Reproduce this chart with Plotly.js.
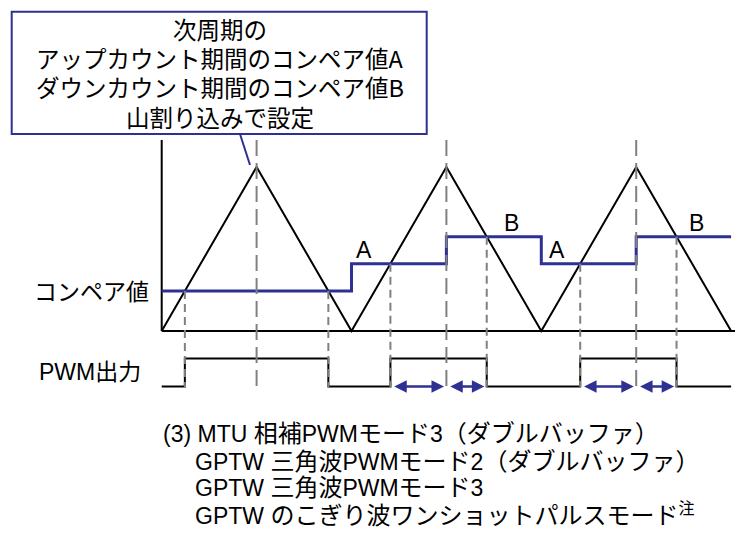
<!DOCTYPE html>
<html><head><meta charset="utf-8">
<script src="https://cdn.plot.ly/plotly-3.0.1.min.js"></script>
<style>html,body{margin:0;padding:0;background:#fff;}#chart{width:735px;height:537px;}</style>
</head><body><div id="chart"></div>
<script>
// ---- data ----
// carrier counter (triangle wave), time in half-periods, value normalised to peak
const carrierT = [0, 1, 2, 3, 4, 5, 6];
const carrierV = [0, 1, 0, 1, 0, 1, 0];
// compare register value for each segment
const compareStart = [0, 2, 3, 4, 5];
const compareEnd   = [2, 3, 4, 5, 6];
const compareV     = [0.244, 0.41, 0.575, 0.41, 0.575];
// step labels (A = up-count compare, B = down-count compare)
const stepLabels = ['', 'A', 'B', 'A', 'B'];
const stepLabelT = [null, 2.13, 3.69, 4.17, 5.64];
// texts
const calloutLines = ['次周期の', 'アップカウント期間のコンペア値A', 'ダウンカウント期間のコンペア値B', '山割り込みで設定'];
const captionLines = ['(3) MTU 相補PWMモード3（ダブルバッファ）', 'GPTW 三角波PWMモード2（ダブルバッファ）', 'GPTW 三角波PWMモード3', 'GPTW のこぎり波ワンショットパルスモード'];
const captionNote = '注';
const axisLabels = ['コンペア値', 'PWM出力'];

// ---- layout constants ----
const W = 735, H = 537;
const BLUE = '#2E3192', GRAY = '#808080';
const V_TOP = 1.165, PWM_HI = -0.168, PWM_LO = -0.338, DASH_BOTTOM = -0.341;
const px = x => x / W, py = y => 1 - y / H;
const LATIN = 'Liberation Sans, Arial, Noto Sans CJK JP, sans-serif';
const CJK = 'Noto Sans CJK JP, sans-serif';
const cjkSpan = (s, size) => s.replace(/[\u3000-\u9fff\uff00-\uffef]+/g, m => '<span style="font-size:' + size + 'px">' + m + '</span>');

function levelAt(t) {
  for (let i = 0; i < compareStart.length; i++) if (t >= compareStart[i] && t < compareEnd[i]) return compareV[i];
  return compareV[compareV.length - 1];
}

// PWM crossings derived from carrier vs compare
const periods = [];
for (let k = 0; 2 * k + 2 <= carrierT[carrierT.length - 1]; k++) {
  const t0 = carrierT[2 * k], tp = carrierT[2 * k + 1], t1 = carrierT[2 * k + 2];
  const up = levelAt(t0 + 0.5), dn = levelAt(tp + 0.5);
  const on = t0 + (tp - t0) * (up - carrierV[2 * k]) / (carrierV[2 * k + 1] - carrierV[2 * k]);
  const off = t1 - (t1 - tp) * (dn - carrierV[2 * k + 2]) / (carrierV[2 * k + 1] - carrierV[2 * k + 2]);
  periods.push({ on, off, peak: tp, up, dn, k });
}

const pwmX = [carrierT[0]], pwmY = [PWM_LO];
periods.forEach(p => { pwmX.push(p.on, p.off); pwmY.push(PWM_HI, PWM_LO); });
pwmX.push(carrierT[carrierT.length - 1]); pwmY.push(PWM_LO);

const cmpX = compareStart.concat([compareEnd[compareEnd.length - 1]]);
const cmpY = compareV.concat([compareV[compareV.length - 1]]);

const peakDX = [], peakDY = [], crossDX = [], crossDY = [];
periods.forEach(p => {
  peakDX.push(p.peak, p.peak, null); peakDY.push(V_TOP, DASH_BOTTOM, null);
  crossDX.push(p.on, p.on, null, p.off, p.off, null);
  crossDY.push(p.up, DASH_BOTTOM, null, p.dn, DASH_BOTTOM, null);
});

const tEnd = (735 - 161.7) / 94.9;
const traces = [
  { x: [carrierT[0], carrierT[0]], y: [0, V_TOP], mode: 'lines', line: { color: '#000', width: 2 } },
  { x: [carrierT[0], tEnd], y: [0, 0], mode: 'lines', line: { color: '#000', width: 2 } },
  { x: carrierT, y: carrierV, mode: 'lines', line: { color: '#000', width: 2 } },
  { x: cmpX, y: cmpY, mode: 'lines', line: { color: BLUE, width: 3, shape: 'hv' } },
  { x: pwmX, y: pwmY, mode: 'lines', line: { color: '#000', width: 2, shape: 'hv' } },
  { x: peakDX, y: peakDY, mode: 'lines', line: { color: GRAY, width: 2, dash: '16px,7px' } },
  { x: crossDX, y: crossDY, mode: 'lines', line: { color: GRAY, width: 2, dash: '8px,5px' } }
];

const annotations = [];
// callout text
const calloutY = [29, 58, 87.5, 116.7];
calloutLines.forEach((s, i) => annotations.push({ xref: 'paper', yref: 'paper', x: px(219.5), y: py(calloutY[i]), text: s, showarrow: false, xanchor: 'center', yanchor: 'middle', font: { family: CJK, size: 23.5, color: '#000' } }));
// caption
const capX = [161, 193, 193, 193], capY = [433.3, 461, 487.7, 514.3];
captionLines.forEach((s, i) => {
  let t = cjkSpan(s, 24);
  if (i === captionLines.length - 1) t += '<sup>' + captionNote + '</sup>';
  annotations.push({ xref: 'paper', yref: 'paper', x: px(capX[i]), y: py(capY[i]), text: t, showarrow: false, xanchor: 'left', yanchor: 'middle', font: { family: LATIN, size: 23, color: '#000' } });
});
// axis labels
annotations.push({ xref: 'paper', yref: 'paper', x: px(91.5), y: py(291.5), text: cjkSpan(axisLabels[0], 23), showarrow: false, xanchor: 'center', yanchor: 'middle', font: { family: LATIN, size: 23, color: '#000' } });
annotations.push({ xref: 'paper', yref: 'paper', x: px(90), y: py(371.5), text: cjkSpan(axisLabels[1], 23), showarrow: false, xanchor: 'center', yanchor: 'middle', font: { family: LATIN, size: 23, color: '#000' } });
// step labels
stepLabels.forEach((s, i) => { if (s) annotations.push({ x: stepLabelT[i], y: compareV[i], xref: 'x', yref: 'y', yshift: 14, text: s, showarrow: false, xanchor: 'center', yanchor: 'middle', font: { family: LATIN, size: 23, color: '#000' } }); });
// duration arrows for double-buffer periods
const gap = 0.025;
periods.filter(p => p.up !== p.dn).forEach(p => {
  [[p.on + gap, p.peak - gap], [p.peak + gap, p.off - gap]].forEach(([a, b]) => annotations.push({
    x: b, y: PWM_LO, ax: a, ay: PWM_LO, xref: 'x', yref: 'y', axref: 'x', ayref: 'y', text: '', showarrow: true,
    arrowside: 'end+start', arrowhead: 2, startarrowhead: 2, arrowsize: 1, startarrowsize: 1, arrowwidth: 2.5, arrowcolor: BLUE, standoff: 0, startstandoff: 0
  }));
});

const shapes = [
  { type: 'rect', xref: 'paper', yref: 'paper', x0: px(11.7), x1: px(426.7), y0: py(11.7), y1: py(134), line: { color: BLUE, width: 2 }, fillcolor: '#fff', layer: 'below' },
  { type: 'line', xref: 'paper', yref: 'paper', x0: px(240), y0: py(134), x1: px(250), y1: py(165), line: { color: BLUE, width: 2 } }
];

const layout = {
  width: W, height: H, margin: { l: 0, r: 0, t: 0, b: 0 }, showlegend: false,
  paper_bgcolor: '#fff', plot_bgcolor: 'rgba(0,0,0,0)',
  xaxis: { range: [-161.7 / 94.9, tEnd], visible: false, fixedrange: true },
  yaxis: { range: [(331 - 537) / 164, 331 / 164], visible: false, fixedrange: true },
  annotations, shapes
};
Plotly.newPlot('chart', traces, layout, { displayModeBar: false, staticPlot: true });
</script></body></html>
